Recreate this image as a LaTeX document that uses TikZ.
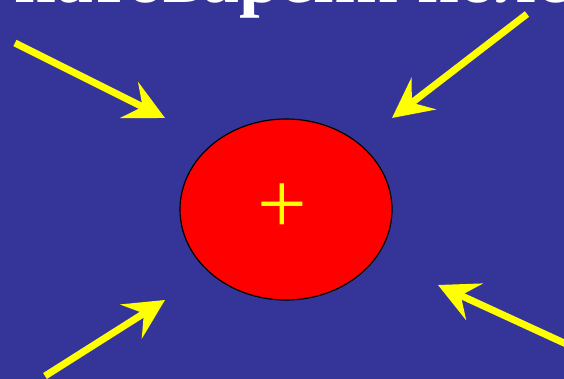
\documentclass[tikz,border=0pt]{standalone}
\usepackage{fontspec}
\setmainfont{Liberation Serif}
\usetikzlibrary{arrows.meta}
\definecolor{bgblue}{RGB}{53,53,153}
\definecolor{chyellow}{RGB}{255,255,0}
\tikzset{
  force/.style={draw=chyellow, line width=7pt, -{Stealth[length=40pt,width=40pt,inset=15pt]}},
  charge/.style={ellipse, draw=black, line width=1.2pt, fill=red, minimum width=212pt, minimum height=181pt, inner sep=0pt},
}
\usetikzlibrary{shapes.geometric}
\begin{document}
\begin{tikzpicture}[x=1pt,y=-1pt]
\useasboundingbox (0,0) rectangle (564,379);
\fill[bgblue] (0,0) rectangle (564,379);
\clip (0,0) rectangle (564,379);
\node[anchor=base west, text=white, font=\bfseries\fontsize{74}{80}\selectfont, inner sep=0pt] (title) at (14,3) {натоварени поле};
\node[charge] (q) at (286,209.5) {};
\node[text=chyellow, font=\fontsize{88}{90}\selectfont, inner sep=0pt] (plus) at (282,209) {+};
\coordinate (s1) at (15,43);
\coordinate (t1) at (165,118);
\coordinate (s2) at (527,14);
\coordinate (t2) at (392,118);
\coordinate (s3) at (45,376);
\coordinate (t3) at (165,300);
\coordinate (s4) at (575,348);
\coordinate (t4) at (438,285);
\draw[force] (s1) -- (t1);
\draw[force] (s2) -- (t2);
\draw[force] (s3) -- (t3);
\draw[force] (s4) -- (t4);
\end{tikzpicture}
\end{document}
